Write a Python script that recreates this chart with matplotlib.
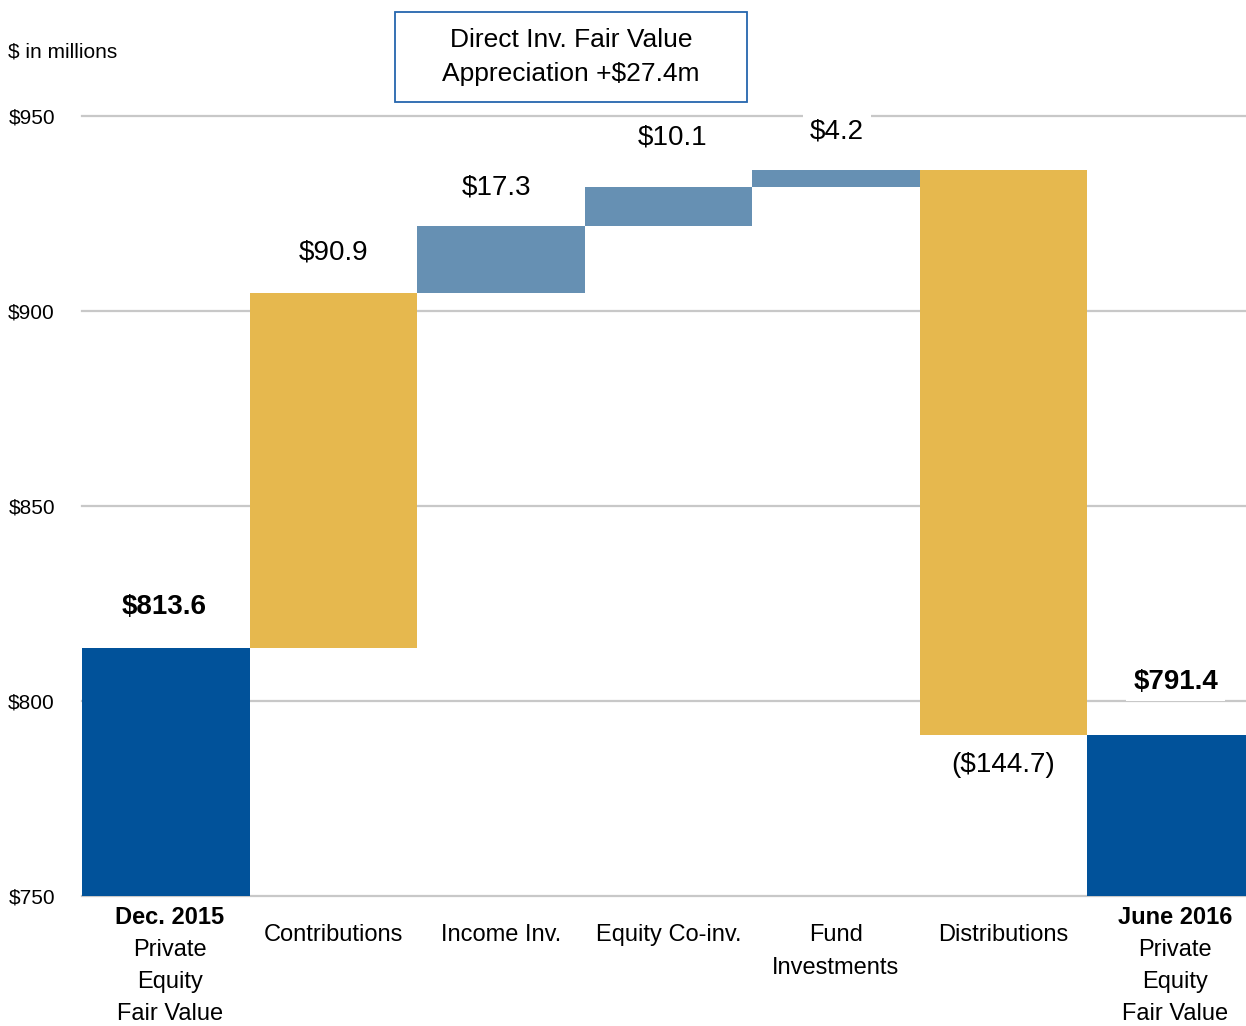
import matplotlib
matplotlib.use("Agg")
import matplotlib.pyplot as plt
from matplotlib.patches import Rectangle

plt.rcParams['font.family'] = ['Liberation Sans', 'DejaVu Sans']

# ---- data ----
categories_title = ["Dec. 2015", "", "", "", "", "", "June 2016"]
categories_text = ["Private\nEquity\nFair Value", "Contributions", "Income Inv.",
                   "Equity Co-inv.", "Fund\nInvestments", "Distributions",
                   "Private\nEquity\nFair Value"]
start_value = 813.6
changes = [90.9, 17.3, 10.1, 4.2, -144.7]
end_value = 791.4
value_labels = ["$813.6", "$90.9", "$17.3", "$10.1", "$4.2", "($144.7)", "$791.4"]
yticks = [750, 800, 850, 900, 950]
ytick_labels = ["$750", "$800", "$850", "$900", "$950"]
note_text = "Direct Inv. Fair Value\nAppreciation +$27.4m"
unit_text = "$ in millions"

C_TOTAL = '#01529A'
C_FLOW = '#E6B84E'
C_INV = '#6690B3'
bar_colors = [C_TOTAL, C_FLOW, C_INV, C_INV, C_INV, C_FLOW, C_TOTAL]

W, H = 1246, 1026
fig = plt.figure(figsize=(W / 100, H / 100), dpi=100)
ax_left, ax_right = 82, 1254.5
y750, y950 = 896, 116
ppu = (y750 - y950) / 200.0
ytop = 975
ytop_px = y750 - (ytop - 750) * ppu
ax = fig.add_axes([ax_left / W, (H - y750) / H, (ax_right - ax_left) / W, (y750 - ytop_px) / H])
ax.set_xlim(-0.5, 6.5)
ax.set_ylim(750, ytop)

# waterfall geometry
bottoms, heights = [], []
bottoms.append(750); heights.append(start_value - 750)
level = start_value
for c in changes:
    if c >= 0:
        bottoms.append(level); heights.append(c)
    else:
        bottoms.append(level + c); heights.append(-c)
    level += c
bottoms.append(750); heights.append(end_value - 750)

grid_right = 6.5 - (ax_right - W) / ((ax_right - ax_left) / 7.0)
for y in yticks:
    ax.plot([-0.5, grid_right], [y, y], color='#C8C8C8', lw=1.6, zorder=1, clip_on=False)

x = list(range(len(bar_colors)))
ax.bar(x, heights, bottom=bottoms, width=1.0, color=bar_colors, zorder=2, linewidth=0)

# value labels
offsets = [41, 41, 38, 49, 39, 0, 53]  # px above top
dxs = [-2, 0, -4, 4, 1, 0, 5]
for i, lab in enumerate(value_labels):
    top = bottoms[i] + heights[i]
    bold = i in (0, 6)
    if i == 5:
        ax.annotate(lab, (i, bottoms[i]), xytext=(dxs[i] * 0.72, -30 * 0.72), textcoords='offset points',
                    ha='center', va='center', fontsize=20, zorder=3,
                    bbox=dict(boxstyle='square,pad=0.25', fc='white', ec='none'))
    else:
        ax.annotate(lab, (i, top), xytext=(dxs[i] * 0.72, offsets[i] * 0.72), textcoords='offset points',
                    ha='center', va='center', fontsize=20, zorder=3,
                    fontweight='bold' if bold else 'normal',
                    bbox=dict(boxstyle='square,pad=0.25', fc='white', ec='none'))

# category labels
for i in range(len(categories_text)):
    lines = categories_text[i].split('\n')
    if categories_title[i]:
        ax.annotate(categories_title[i], (i, 0), xycoords=('data', 'axes fraction'),
                    xytext=(4 * 0.72, -22 * 0.72), textcoords='offset points', ha='center', va='center',
                    fontsize=17, fontweight='bold')
        start, step = 54, 32
        dx = 4
    else:
        start, step = 39, 33
        dx = 0
    for k, line in enumerate(lines):
        ax.annotate(line, (i, 0), xycoords=('data', 'axes fraction'),
                    xytext=(dx * 0.72, -(start + step * k) * 0.72), textcoords='offset points',
                    ha='center', va='center', fontsize=17)

ax.set_yticks(yticks)
ax.set_yticklabels(ytick_labels, fontsize=15)
ax.tick_params(axis='y', length=0, pad=27 * 0.72)
ax.set_xticks([])
for s in ax.spines.values():
    s.set_visible(False)

# unit text
fig.text(8 / W, 1 - 52 / H, unit_text, ha='left', va='center', fontsize=15)

# note box
fig.patches.append(Rectangle((395 / W, 1 - 102 / H), (747 - 395) / W, 90 / H,
                             transform=fig.transFigure, fc='white', ec='#2566AE', lw=1.3))
fig.text(571 / W, 1 - 57 / H, note_text, ha='center', va='center', fontsize=19,
         linespacing=1.5)

fig.savefig('out.png', dpi=100)
